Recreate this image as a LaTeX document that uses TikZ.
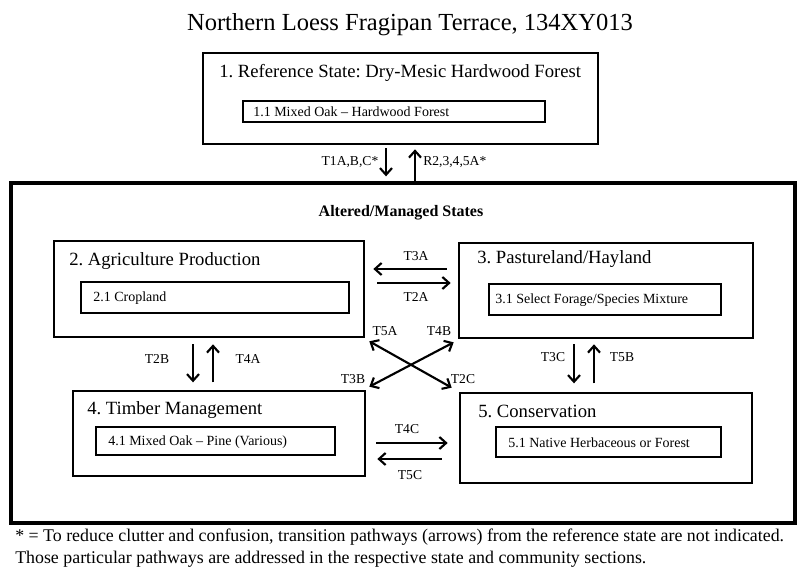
\documentclass[tikz,border=0pt]{standalone}
\usepackage{fontspec}
\setmainfont{Liberation Serif}
\usetikzlibrary{arrows.meta,fit}
\frenchspacing
\begin{document}
\begin{tikzpicture}[x=0.75pt,y=-0.75pt,
 box/.style={draw, line width=2pt, inner sep=0pt, rectangle},
 inbox/.style={draw, line width=1.5pt, inner sep=0pt, rectangle},
 outerbox/.style={draw, line width=3pt, inner sep=0pt, rectangle},
 ttl/.style={anchor=west, inner sep=0pt, font=\fontsize{14}{16}\selectfont},
 sub/.style={anchor=west, inner sep=0pt, font=\fontsize{10.5}{12}\selectfont},
 lbl/.style={inner sep=0pt, font=\fontsize{10.2}{12}\selectfont},
 foot/.style={anchor=west, inner sep=0pt, font=\fontsize{13.4}{15}\selectfont},
 arr/.style={line width=1.6pt, -{Straight Barb[length=5pt,width=9pt]}},
 darr/.style={line width=1.6pt, {Straight Barb[length=5pt,width=9pt]}-{Straight Barb[length=5pt,width=9pt]}}]
\useasboundingbox (0,0) rectangle (800,581);
\fill[white] (0,0) rectangle (800,581);
% title
\node[inner sep=0pt, font=\fontsize{18.4}{22}\selectfont] (title) at (410,25) {Northern Loess Fragipan Terrace, 134XY013};
% box 1
\node[box, fit={(203,53)(598,144)}] (b1) {};
\node[ttl] (t1) at (219,73) {1. Reference State: Dry-Mesic Hardwood Forest};
\node[inbox, fit={(243,101)(545,122)}] (i1) {};
\node[sub] (s1) at (253,111.5) {1.1 Mixed Oak – Hardwood Forest};
% outer
\node[outerbox, fit={(11,183)(795,523)}] (ob) {};
\node[inner sep=0pt, font=\bfseries\fontsize{12}{14}\selectfont] (alt) at (401,213) {Altered/Managed States};
% box 2
\node[box, fit={(54,241)(364,337)}] (b2) {};
\node[ttl] (t2) at (69,261) {2. Agriculture Production};
\node[inbox, fit={(81,282)(349,313)}] (i2) {};
\node[sub] (s2) at (93,298) {2.1 Cropland};
% box 3
\node[box, fit={(459,243)(753,338)}] (b3) {};
\node[ttl] (t3) at (477,259) {3. Pastureland/Hayland};
\node[inbox, fit={(489,284)(721,315)}] (i3) {};
\node[sub] (s3) at (495,300) {3.1 Select Forage/Species Mixture};
% box 4
\node[box, fit={(73,391)(365,476)}] (b4) {};
\node[ttl] (t4) at (87,410) {4. Timber Management};
\node[inbox, fit={(96,427)(335,455)}] (i4) {};
\node[sub] (s4) at (108,442) {4.1 Mixed Oak – Pine (Various)};
% box 5
\node[box, fit={(460,393)(752,483)}] (b5) {};
\node[ttl] (t5) at (478,411) {5. Conservation};
\node[inbox, fit={(496,427)(721,457)}] (i5) {};
\node[sub] (s5) at (508,443) {5.1 Native Herbaceous or Forest};
% arrows 1 <-> outer
\draw[arr] ([shift={(-14.5,3)}]b1.south) -- ([shift={(-14.5,31)}]b1.south);
\draw[arr] ([shift={(14.5,38)}]b1.south) -- ([shift={(14.5,4)}]b1.south);
\node[lbl] (l1) at (350,162) {T1A,B,C*};
\node[lbl, anchor=west] (l2) at (423,162) {R2,3,4,5A*};
% 2 <-> 3
\draw[arr] ([shift={(-11,-21.5)}]b3.west) -- ([shift={(8,-20)}]b2.east);
\draw[arr] ([shift={(12,-6)}]b2.east) -- ([shift={(-7,-7.5)}]b3.west);
\node[lbl] (l3) at (416,256) {T3A};
\node[lbl] (l4) at (416,297) {T2A};
% 2 <-> 4
\draw[arr] ([shift={(-16,6)}]b2.south) -- ([shift={(-16,44)}]b2.south);
\draw[arr] ([shift={(4,44)}]b2.south) -- ([shift={(4,6)}]b2.south);
\node[lbl] (l5) at (157,359) {T2B};
\node[lbl] (l6) at (248,359) {T4A};
% 3 <-> 5
\draw[arr] ([shift={(-32,5)}]b3.south) -- ([shift={(-32,44)}]b3.south);
\draw[arr] ([shift={(-12,44)}]b3.south) -- ([shift={(-12,5)}]b3.south);
\node[lbl] (l7) at (553,357) {T3C};
\node[lbl] (l8) at (622,357) {T5B};
% 4 <-> 5
\draw[arr] ([shift={(10,9.5)}]b4.east) -- ([shift={(-11,5)}]b5.west);
\draw[arr] ([shift={(-17,21)}]b5.west) -- ([shift={(11,25.5)}]b4.east);
\node[lbl] (l9) at (407,429) {T4C};
\node[lbl] (l10) at (410,475) {T5C};
% cross
\draw[darr] ([shift={(4,3)}]b2.south east) -- ([shift={(-7,-4)}]b5.north west);
\draw[darr] ([shift={(-4,3)}]b3.south west) -- ([shift={(3,-3)}]b4.north east);
\node[lbl] (l11) at (385,331) {T5A};
\node[lbl] (l12) at (439,331) {T4B};
\node[lbl] (l13) at (353,379) {T3B};
\node[lbl] (l14) at (463,379) {T2C};
% footnote
\node[foot] (f1) at (15,537) {* = To reduce clutter and confusion, transition pathways (arrows) from the reference state are not indicated.};
\node[foot] (f2) at (15,559) {Those particular pathways are addressed in the respective state and community sections.};
\end{tikzpicture}
\end{document}
